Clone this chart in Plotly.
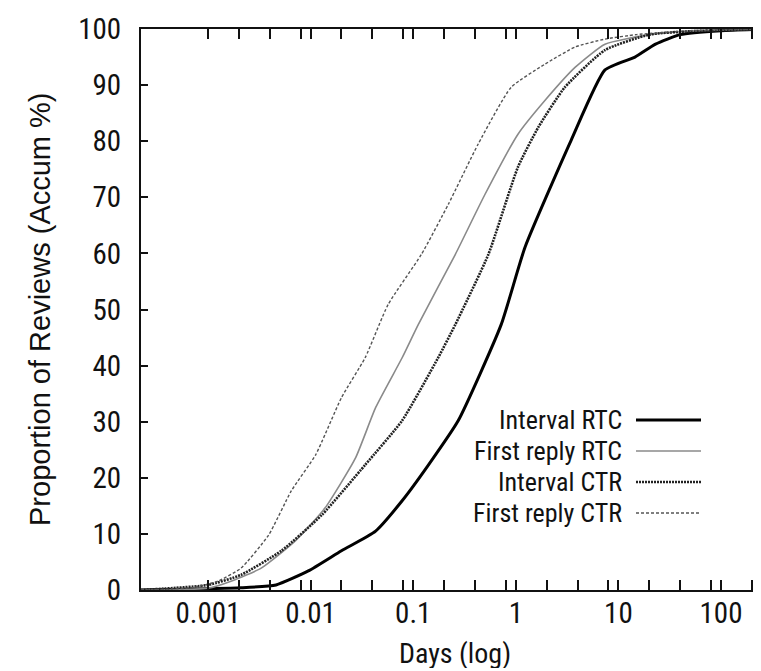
import plotly.graph_objects as go

# ---------------- data ----------------
fr_ctr_days = [0.00022, 0.0007, 0.00126, 0.0021, 0.0039, 0.0065, 0.0112, 0.02, 0.034, 0.057,
               0.12, 0.22, 0.43, 0.9, 1.93, 3.8, 7.4, 15, 40, 100, 300]
fr_ctr_pct = [0, 0.4, 1.6, 3.9, 9.8, 17.7, 24.1, 34.3, 41.4, 50.9,
              59.8, 68.75, 79.5, 89.6, 93.75, 96.8, 98.2, 99.0, 99.6, 99.9, 100]

fr_rtc_days = [0.00022, 0.001, 0.0017, 0.0033, 0.0071, 0.0138, 0.0275, 0.043, 0.078, 0.112,
               0.257, 0.5, 1.05, 1.93, 3.8, 7.4, 20, 50, 300]
fr_rtc_pct = [0, 0.3, 1.6, 3.9, 8.75, 14.6, 23.6, 32.5, 41.4, 47.3,
              59.8, 70.5, 81.25, 87.3, 93.2, 97.3, 99.0, 99.6, 100]

i_ctr_days = [0.00022, 0.001, 0.0021, 0.0052, 0.0129, 0.034, 0.078, 0.175, 0.257, 0.54,
              1.05, 1.66, 3.0, 7.4, 20, 50, 300]
i_ctr_pct = [0, 0.9, 2.7, 7.0, 13.4, 22.3, 30.2, 41.4, 47.3, 59.8,
             75.4, 82.5, 89.6, 96.25, 99.0, 99.6, 100]

i_rtc_days = [0.00022, 0.0021, 0.0046, 0.0095, 0.02, 0.043, 0.078, 0.141, 0.275, 0.72,
              1.23, 3.47, 7.4, 14.5, 23, 40, 100, 300]
i_rtc_pct = [0, 0.4, 0.9, 3.4, 7.0, 10.5, 15.9, 22.3, 30.2, 47.3,
             61.1, 80.2, 92.7, 95.0, 97.3, 99.0, 99.7, 100]

series_names = ["Interval RTC", "First reply RTC", "Interval CTR", "First reply CTR"]

x_tick_vals = [0.001, 0.01, 0.1, 1, 10, 100]
x_tick_text = ["0.001", "0.01", "0.1", "1", "10", "100"]
x_minor_vals = [m * 10.0 ** k for k in range(-3, 3) for m in (2, 4, 8)]
y_tick_vals = list(range(0, 101, 10))

# ---------------- layout geometry ----------------
W, H = 761, 671
L, R, T, B = 133, 761, 21, 582
PW, PH = R - L, B - T

def px(x):
    return (x - L) / PW

def py(y):
    return (B - y) / PH

NARROW = "Roboto Condensed, DejaVu Sans Condensed, Liberation Sans Narrow, Arial Narrow, Liberation Sans, sans-serif"
SANS = "Liberation Sans, Arial, Helvetica, sans-serif"
INK = "#111111"

styles = [
    dict(color="#000000", width=3, dash="solid"),
    dict(color="#8a8a8a", width=1.6, dash="solid"),
    dict(color="#222222", width=2.6, dash="2px,1px"),
    dict(color="#555555", width=1.4, dash="3px,2px"),
]
data_sets = [(i_rtc_days, i_rtc_pct), (fr_rtc_days, fr_rtc_pct),
             (i_ctr_days, i_ctr_pct), (fr_ctr_days, fr_ctr_pct)]

fig = go.Figure()
for name, (xs, ys), st in zip(series_names, data_sets, styles):
    fig.add_trace(go.Scatter(x=xs, y=ys, mode="lines", name=name,
                             line=dict(shape="spline", smoothing=0.5, **st),
                             showlegend=False))

# invisible trace on right axis for mirrored tick dots
fig.add_trace(go.Scatter(x=[fr_ctr_days[0]], y=[0], yaxis="y2", mode="lines",
                         showlegend=False, hoverinfo="skip", line=dict(width=0)))

xr = [-3 - (200 - L) / 102.6, 2 + (R - 713) / 102.6]

fig.update_layout(
    width=W, height=H,
    margin=dict(l=L, r=W - R, t=T, b=H - B, pad=0),
    paper_bgcolor="white", plot_bgcolor="white",
    font=dict(family=NARROW, size=29, color=INK),
    xaxis=dict(
        type="log", range=xr, showgrid=False, zeroline=False,
        showline=True, linecolor=INK, linewidth=2, mirror="allticks",
        tickmode="array", tickvals=x_tick_vals, ticktext=x_tick_text,
        ticks="inside", ticklen=10, tickwidth=2, tickcolor=INK,
        ticklabelstandoff=-4,
        minor=dict(tickmode="array", tickvals=x_minor_vals, ticks="inside",
                   ticklen=7, tickwidth=2, tickcolor=INK, showgrid=False),
        tickfont=dict(family=NARROW, size=29, color=INK),
    ),
    yaxis=dict(
        range=[0, 100], showgrid=False, zeroline=False,
        showline=True, linecolor=INK, linewidth=2, mirror=False,
        tickmode="array", tickvals=y_tick_vals,
        ticks="inside", ticklen=7, tickwidth=2, tickcolor=INK,
        ticklabelstandoff=12,
        tickfont=dict(family=NARROW, size=29, color=INK),
    ),
    yaxis2=dict(
        range=[0, 100], overlaying="y", side="right", showgrid=False,
        zeroline=False, showline=False, tickmode="array", tickvals=y_tick_vals,
        ticks="inside", ticklen=3, tickwidth=2, tickcolor=INK,
        showticklabels=False,
    ),
)

# axis titles
fig.add_annotation(x=px(447), y=py(645), xref="paper", yref="paper",
                   text="Days (log)", showarrow=False, xanchor="center", yanchor="middle",
                   height=30, font=dict(family=NARROW, size=28, color=INK))
fig.add_annotation(x=px(32), y=py(301), xref="paper", yref="paper",
                   text="Proportion of Reviews (Accum %)", showarrow=False,
                   textangle=-90, xanchor="center", yanchor="middle",
                   font=dict(family=SANS, size=29, color=INK))

# manual legend (text right-aligned, sample line to the right)
rows = [412, 443, 474, 505]
for name, st, yrow in zip(series_names, styles, rows):
    fig.add_annotation(x=px(616), y=py(yrow), xref="paper", yref="paper",
                       text=name, showarrow=False, xanchor="right", yanchor="middle",
                       height=28, font=dict(family=NARROW, size=26, color=INK))
    fig.add_shape(type="line", xref="paper", yref="paper",
                  x0=px(628), x1=px(693), y0=py(yrow), y1=py(yrow),
                  line=dict(color=st["color"], width=st["width"], dash=st["dash"]))

fig.write_html("out.html")
